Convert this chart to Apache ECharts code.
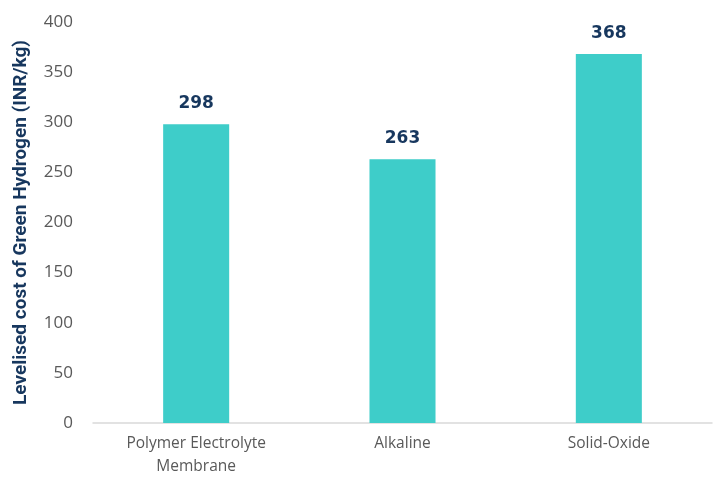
<!DOCTYPE html>
<html><head><meta charset="utf-8">
<script src="https://cdn.jsdelivr.net/npm/echarts@6/dist/echarts.min.js"></script>
<style>html,body{margin:0;padding:0;background:#fff}#c{width:716px;height:479px}</style>
</head><body><div id="c"></div>
<script>
const categories = ["Polymer Electrolyte\nMembrane", "Alkaline", "Solid-Oxide"];
const costValues = [298, 263, 368];
const yTicks = {min: 0, max: 400, interval: 50};
const yAxisName = "Levelised cost of Green Hydrogen (INR/kg)";

const chart = echarts.init(document.getElementById('c'), null, {renderer: 'canvas'});
chart.setOption({
  animation: false,
  grid: {left: 93, right: 4, top: 22, bottom: 56},
  xAxis: {
    type: 'category',
    data: categories,
    axisLine: {lineStyle: {color: '#d9d9d9', width: 1.5}},
    axisTick: {show: false},
    axisLabel: {color: '#595959', fontSize: 15.5, fontFamily: 'Open Sans', margin: 9, lineHeight: 23}
  },
  yAxis: {
    type: 'value',
    min: yTicks.min, max: yTicks.max, interval: yTicks.interval,
    name: yAxisName,
    nameLocation: 'middle',
    nameGap: 62,
    nameTextStyle: {color: '#17375e', fontSize: 19, fontWeight: 'bold', fontFamily: 'Roboto'},
    splitLine: {show: false},
    axisLine: {show: false},
    axisTick: {show: false},
    axisLabel: {color: '#595959', fontSize: 17, fontFamily: 'Open Sans', margin: 20}
  },
  series: [{
    type: 'bar',
    data: costValues,
    barWidth: '32%',
    itemStyle: {color: '#3ecdc9'},
    label: {show: true, position: 'top', distance: 12, color: '#17375e', fontSize: 17, fontWeight: 'bold', fontFamily: 'DejaVu Sans'}
  }]
});
</script></body></html>
